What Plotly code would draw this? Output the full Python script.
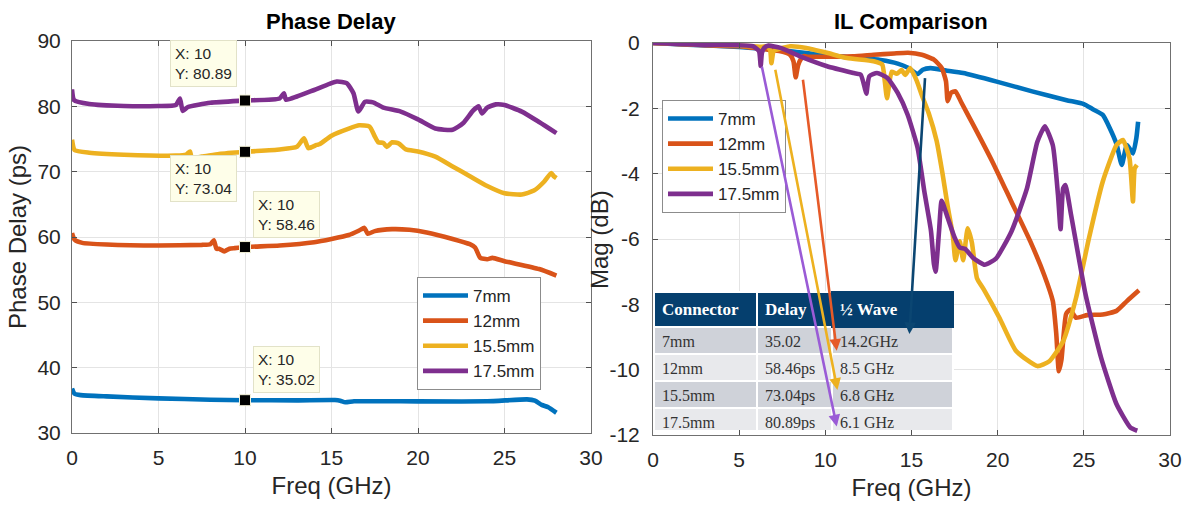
import plotly.graph_objects as go

W, H = 1186, 506

series_names = ["7mm", "12mm", "15.5mm", "17.5mm"]
series_colors = ["#0072BD", "#D95319", "#EDB120", "#7E2F8E"]

# ---------------- Phase delay (ps) vs frequency (GHz) ----------------
pd_7mm_x = [0, 0.15, 0.5, 2, 5, 8, 10, 13, 15.2, 15.5, 15.8, 16.3, 19, 24, 26.3, 26.76, 27.15, 27.53, 28.0]
pd_7mm_y = [36.8, 36.0, 35.8, 35.6, 35.3, 35.1, 35.02, 35.0, 35.05, 34.95, 34.7, 34.85, 34.85, 34.85, 35.15, 34.95, 34.3, 33.94, 33.1]

pd_12mm_x = [0, 0.15, 0.6, 2, 5, 7.5, 8.0, 8.2, 8.35, 8.5, 8.8, 9.1, 9.4, 10, 12, 14, 15, 16, 16.6, 16.9, 17.1,
             17.5, 18.5, 19.5, 20.5, 22, 23, 23.3, 23.6, 24, 24.3, 25, 27, 28]
pd_12mm_y = [60.6, 59.6, 59.1, 58.85, 58.7, 58.8, 58.9, 59.5, 58.2, 58.2, 57.8, 58.2, 58.3, 58.46, 58.7, 59.2, 59.7,
             60.3, 61.0, 61.4, 60.5, 60.9, 61.2, 61.1, 60.7, 59.7, 58.9, 58.4, 56.8, 56.6, 56.8, 56.3, 55.1, 54.1]

pd_15mm_x = [0, 0.15, 1, 3, 6, 6.6, 6.82, 6.92, 7.5, 8.5, 10, 12, 13, 13.41, 13.66, 14.14, 14.3, 15, 16, 16.6, 17.2,
             17.5, 17.7, 18, 18.2, 18.5, 18.9, 19.3, 20, 21, 22, 23, 24, 25, 26, 26.7, 27.3, 27.7, 27.85, 28]
pd_15mm_y = [74.9, 73.3, 72.9, 72.6, 72.45, 72.6, 73.1, 72.15, 72.3, 72.7, 73.04, 73.4, 73.8, 75.1, 73.6, 74.1, 74.2,
             75.5, 76.6, 77.1, 76.9, 75.4, 74.5, 74.4, 73.8, 74.5, 74.3, 73.4, 73.1, 72.3, 70.8, 69.3, 67.8, 66.7,
             66.5, 67.1, 68.5, 69.8, 69.3, 69.0]

pd_17mm_x = [0, 0.12, 1, 3, 5, 6, 6.24, 6.4, 6.7, 8, 10, 12, 12.25, 12.37, 13, 14, 15.3, 15.88, 16.27, 16.55, 16.94,
             17.4, 18, 19, 20, 21, 22, 22.6, 23.2, 23.5, 23.7, 24, 24.5, 25, 26, 27, 28]
pd_17mm_y = [82.6, 80.95, 80.35, 80.04, 80.04, 80.2, 81.2, 79.3, 79.9, 80.55, 80.89, 81.2, 82.0, 81.0, 81.5, 82.5,
             83.8, 83.55, 82.0, 79.2, 80.7, 80.6, 79.8, 79.2, 78.0, 76.6, 76.4, 77.4, 79.4, 80.0, 78.9, 79.8, 80.3,
             80.2, 79.2, 77.6, 75.9]

# ---------------- Insertion loss (dB) vs frequency (GHz) ----------------
il_7mm_x = [0, 2, 5, 8, 10, 12, 13.2, 14.2, 14.8, 15.35, 15.65, 16.1, 17, 18, 20, 22, 24, 25, 25.5, 26.1, 26.5,
            26.9, 27.2, 27.5, 27.85, 28.05, 28.15]
il_7mm_y = [0, -0.05, -0.12, -0.25, -0.38, -0.46, -0.52, -0.63, -0.76, -0.95, -0.82, -0.77, -0.84, -0.92, -1.19,
            -1.48, -1.75, -1.87, -2.02, -2.2, -2.6, -3.1, -3.73, -3.12, -3.38, -2.9, -2.41]

il_12mm_x = [0, 3, 5, 6.6, 7.4, 7.95, 8.15, 8.28, 8.42, 8.55, 8.75, 9.0, 10, 11.6, 12.8, 14, 14.8, 15.6, 16.3,
             16.75, 17.0, 17.1, 17.3, 17.55, 17.9, 18.6, 19.7, 20.8, 21.9, 22.7, 23.2, 23.4, 23.55, 23.7, 23.97,
             24.2, 24.55, 25.2, 26.1, 26.9, 27.5, 28.2]
il_12mm_y = [0, -0.07, -0.1, -0.2, -0.25, -0.36, -0.56, -1.05, -0.68, -0.52, -0.4, -0.42, -0.42, -0.41, -0.36,
             -0.32, -0.3, -0.36, -0.51, -0.76, -1.17, -1.78, -1.52, -1.48, -1.83, -2.52, -3.64, -4.86, -6.08, -7.1,
             -7.9, -8.9, -10.05, -9.7, -8.3, -8.16, -8.41, -8.33, -8.31, -8.2, -7.9, -7.57]

il_15mm_x = [0, 3, 5, 6.3, 6.6, 6.8, 6.87, 7.0, 7.2, 7.96, 8.9, 10.1, 11.26, 12.8, 13.3, 13.45, 13.58, 13.85,
             14.14, 14.43, 14.63, 14.92, 15.3, 15.6, 16.0, 16.46, 16.8, 17.1, 17.4, 17.55, 17.8, 18.0, 18.26, 18.5,
             18.8, 19.2, 20.1, 21.07, 22.3, 23.0, 23.8, 24.55, 25.3, 26.1, 26.9, 27.27, 27.65, 27.85, 27.95, 28.08]
il_15mm_y = [0, -0.05, -0.08, -0.12, -0.1, -0.22, -0.62, -0.25, -0.2, -0.1, -0.15, -0.3, -0.46, -0.56, -0.66,
             -1.17, -1.69, -0.88, -0.94, -0.83, -0.98, -0.77, -1.15, -1.6, -2.15, -3.0, -4.0, -5.0, -5.9, -6.65,
             -6.07, -6.65, -5.67, -6.1, -7.2, -7.55, -8.41, -9.43, -9.89, -9.74, -9.13, -7.8, -5.97, -4.24, -3.12,
             -2.97, -3.53, -4.85, -3.84, -3.73]

il_17mm_x = [0, 3, 5.8, 6.15, 6.25, 6.32, 6.45, 6.7, 7.4, 8.5, 10.1, 11.65, 12.05, 12.3, 12.38, 12.55, 13.0, 13.6,
             14.2, 14.77, 15.35, 15.74, 16.13, 16.3, 16.4, 16.6, 16.75, 17.1, 17.5, 17.8, 18.1, 18.6, 19.25, 19.9,
             20.8, 21.7, 22.3, 22.74, 23.2, 23.5, 23.65, 23.8, 23.93, 24.26, 25.1, 26.0, 26.9, 27.7, 28.1]
il_17mm_y = [0, -0.06, -0.1, -0.25, -0.7, -0.3, -0.15, -0.08, -0.15, -0.4, -0.71, -0.92, -0.97, -1.4, -1.55,
             -1.02, -0.92, -1.07, -1.53, -2.19, -3.2, -4.53, -5.75, -6.76, -7.0, -5.75, -4.83, -5.35, -5.95, -6.26,
             -6.3, -6.59, -6.79, -6.6, -5.77, -4.45, -3.03, -2.55, -3.13, -4.65, -5.7, -4.45, -4.35, -5.26, -7.7,
             -9.63, -11.06, -11.77, -11.87]

# ---------------- Data tips at 10 GHz ----------------
tip_freq = 10
tip_delays = [35.02, 58.46, 73.04, 80.89]

# ---------------- Half-wave summary table ----------------
table_connectors = ["7mm", "12mm", "15.5mm", "17.5mm"]
table_delay_units = ["", "ps", "ps", "ps"]
table_half_wave = ["14.2GHz", "8.5 GHz", "6.8 GHz", "6.1 GHz"]

# Arrows from each resonance dip to its table entry: (tail x, tail y, head x, head y)
arrow_tails_x = [6.3, 7.08, 8.69, 15.79]
arrow_tails_y = [-0.68, -0.77, -1.08, -1.03]
arrow_heads_x = [10.66, 10.7, 10.66, 14.88]
arrow_heads_y = [-11.74, -10.62, -9.42, -8.91]
arrow_colors = ["#9A5BD6", "#EDB120", "#E65A28", "#0B4672"]

FONT = "Liberation Sans, Arial, sans-serif"
SERIF = "Liberation Serif, Times New Roman, serif"
TXT = "#262626"
NAVY = "#053F6E"


def px_x(p):
    return p / W


def px_y(p):
    return 1 - p / H


fig = go.Figure()

pd_xs = [pd_7mm_x, pd_12mm_x, pd_15mm_x, pd_17mm_x]
pd_ys = [pd_7mm_y, pd_12mm_y, pd_15mm_y, pd_17mm_y]
il_xs = [il_7mm_x, il_12mm_x, il_15mm_x, il_17mm_x]
il_ys = [il_7mm_y, il_12mm_y, il_15mm_y, il_17mm_y]

line_style = dict(width=4.6, shape="spline", smoothing=0.5)

for name, color, xs, ys in zip(series_names, series_colors, pd_xs, pd_ys):
    fig.add_trace(go.Scatter(x=xs, y=ys, name=name, mode="lines",
                             line=dict(color=color, **line_style),
                             xaxis="x", yaxis="y", legend="legend"))

for name, color, xs, ys in zip(series_names, series_colors, il_xs, il_ys):
    fig.add_trace(go.Scatter(x=xs, y=ys, name=name, mode="lines",
                             line=dict(color=color, **line_style),
                             xaxis="x2", yaxis="y2", legend="legend2"))

# data-tip markers
fig.add_trace(go.Scatter(x=[tip_freq] * len(tip_delays), y=tip_delays, mode="markers",
                         marker=dict(symbol="square", size=11, color="black",
                                     line=dict(color="#F4F2D8", width=1)),
                         showlegend=False, hoverinfo="skip", xaxis="x", yaxis="y"))

# summary table
row_fill = ["#CFD2D9", "#E8E9EC", "#CFD2D9", "#E8E9EC"]
fig.add_trace(go.Table(
    domain=dict(x=[px_x(654), px_x(953)], y=[px_y(431), px_y(292)]),
    columnwidth=[103, 75, 121],
    header=dict(values=["<b>Connector</b>", "<b>Delay</b>", "<b>½ Wave</b>"],
                fill_color=NAVY, line=dict(color=["white", "white", NAVY], width=2),
                font=dict(family=SERIF, size=17, color="white"),
                align="left", height=27),
    cells=dict(values=[table_connectors,
                       [f"{d:.2f}{u}" for d, u in zip(tip_delays, table_delay_units)],
                       table_half_wave],
               fill_color=[row_fill] * 3, line=dict(color="white", width=2),
               font=dict(family=SERIF, size=16, color="#333333"),
               align="left", height=27),
))

axis_common = dict(
    showline=True, linecolor="#707070", linewidth=1, mirror="ticks",
    ticks="inside", ticklen=5, tickcolor="#505050", automargin=False,
    showgrid=True, gridcolor="#E4E4E4", gridwidth=1, zeroline=False,
    tickfont=dict(family=FONT, size=21, color=TXT),
)

fig.update_layout(
    template="none",
    width=W, height=H, margin=dict(l=0, r=0, t=0, b=0, autoexpand=False),
    paper_bgcolor="white", plot_bgcolor="white",
    font=dict(family=FONT, color=TXT),
    xaxis=dict(domain=[px_x(72), px_x(591)], range=[0, 30], anchor="y",
               tickvals=[0, 5, 10, 15, 20, 25, 30], ticklabelstandoff=6,
               title=dict(text="Freq (GHz)", font=dict(family=FONT, size=24, color=TXT), standoff=8),
               **axis_common),
    yaxis=dict(domain=[px_y(433), px_y(41)], range=[30, 90], anchor="x",
               tickvals=[30, 40, 50, 60, 70, 80, 90], ticklabelstandoff=6,
               title=dict(text="Phase Delay (ps)", font=dict(family=FONT, size=24, color=TXT), standoff=4),
               **axis_common),
    xaxis2=dict(domain=[px_x(653), px_x(1170)], range=[0, 30], anchor="y2",
                tickvals=[0, 5, 10, 15, 20, 25, 30], ticklabelstandoff=6,
                title=dict(text="Freq (GHz)", font=dict(family=FONT, size=24, color=TXT), standoff=8),
                **axis_common),
    yaxis2=dict(domain=[px_y(435), px_y(43)], range=[-12, 0], anchor="x2",
                tickvals=[0, -2, -4, -6, -8, -10, -12],
                ticktext=["0", "-2", "-4", "-6", "-8", "-10", "-12"], ticklabelstandoff=8,
                **axis_common),
    legend=dict(x=px_x(417), y=px_y(277), xanchor="left", yanchor="top",
                bgcolor="white", bordercolor="#8C8C8C", borderwidth=1,
                font=dict(family=FONT, size=17, color=TXT), itemwidth=45,
                tracegroupgap=0),
    legend2=dict(x=px_x(662), y=px_y(100), xanchor="left", yanchor="top",
                 bgcolor="white", bordercolor="#8C8C8C", borderwidth=1,
                 font=dict(family=FONT, size=17, color=TXT), itemwidth=45,
                 tracegroupgap=0),
    showlegend=True,
)

annotations = [
    dict(text="<b>Phase Delay</b>", x=px_x(331), y=px_y(22), xref="paper", yref="paper",
         showarrow=False, font=dict(family=FONT, size=22, color="black"), xanchor="center", yanchor="middle"),
    dict(text="<b>IL Comparison</b>", x=px_x(911), y=px_y(22), xref="paper", yref="paper",
         showarrow=False, font=dict(family=FONT, size=22, color="black"), xanchor="center", yanchor="middle"),
    dict(text="Mag (dB)", x=px_x(600), y=px_y(240), xref="paper", yref="paper", textangle=-90,
         showarrow=False, font=dict(family=FONT, size=24, color=TXT), xanchor="center", yanchor="middle"),
]

# data-tip boxes: (anchor x, anchor y, x shift, y shift)
tip_layout = [("left", "bottom", 8, 7), ("left", "bottom", 8, 9),
              ("right", "top", -8, -3), ("right", "bottom", -8, 14)]
for val, (xa, ya, xs, ys) in zip(tip_delays, tip_layout):
    annotations.append(dict(
        text=f"X: {tip_freq}<br>Y: {val:.2f}", x=tip_freq, y=val, xref="x", yref="y",
        showarrow=False, align="left", xanchor=xa, yanchor=ya, xshift=xs, yshift=ys,
        bgcolor="#FEFEE9", bordercolor="#E2E2C8", borderwidth=1, borderpad=4,
        font=dict(family=FONT, size=15.5, color=TXT)))

for tx, ty, hx, hy, c in zip(arrow_tails_x, arrow_tails_y, arrow_heads_x, arrow_heads_y, arrow_colors):
    annotations.append(dict(
        text="", x=hx, y=hy, ax=tx, ay=ty, xref="x2", yref="y2", axref="x2", ayref="y2",
        showarrow=True, arrowhead=2, arrowsize=0.9, arrowwidth=2.6, arrowcolor=c,
        startstandoff=0, standoff=0))

fig.update_layout(annotations=annotations)

fig.write_html("out.html")
